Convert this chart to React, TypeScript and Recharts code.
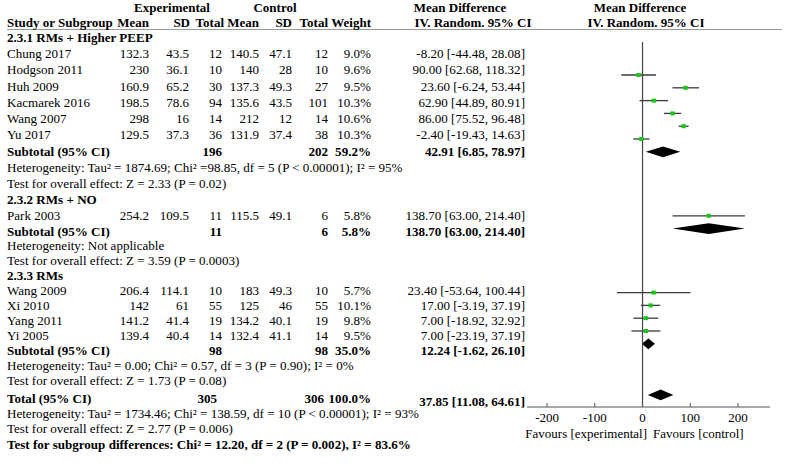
import React from 'react';
import { ScatterChart, Scatter, XAxis, YAxis, ReferenceArea, ReferenceLine } from 'recharts';

// study level data
const studyNames = ['Chung 2017', 'Hodgson 2011', 'Huh 2009', 'Kacmarek 2016', 'Wang 2007', 'Yu 2017', 'Park 2003', 'Wang 2009', 'Xi 2010', 'Yang 2011', 'Yi 2005'];
const expMean = [132.3, 230, 160.9, 198.5, 298, 129.5, 254.2, 206.4, 142, 141.2, 139.4];
const expSD = [43.5, 36.1, 65.2, 78.6, 16, 37.3, 109.5, 114.1, 61, 41.4, 40.4];
const expTotal = [12, 10, 30, 94, 14, 36, 11, 10, 55, 19, 14];
const ctlMean = [140.5, 140, 137.3, 135.6, 212, 131.9, 115.5, 183, 125, 134.2, 132.4];
const ctlSD = [47.1, 28, 49.3, 43.5, 12, 37.4, 49.1, 49.3, 46, 40.1, 41.1];
const ctlTotal = [12, 10, 27, 101, 14, 38, 6, 10, 55, 19, 14];
const weights = ['9.0%', '9.6%', '9.5%', '10.3%', '10.6%', '10.3%', '5.8%', '5.7%', '10.1%', '9.8%', '9.5%'];
const meanDiff = [-8.2, 90.0, 23.6, 62.9, 86.0, -2.4, 138.7, 23.4, 17.0, 7.0, 7.0];
const ciLow = [-44.48, 62.68, -6.24, 44.89, 75.52, -19.43, 63.0, -53.64, -3.19, -18.92, -23.19];
const ciHigh = [28.08, 118.32, 53.44, 80.91, 96.48, 14.63, 214.4, 100.44, 37.19, 32.92, 37.19];
// row index of each study in the plot panel
const studyPlotRow = [0, 1, 2, 3, 4, 5, 11, 17, 18, 19, 20];

// subgroups
const groupTitles = ['2.3.1 RMs + Higher PEEP', '2.3.2 RMs + NO', '2.3.3 RMs'];
const groupExpTotal = [196, 11, 98];
const groupCtlTotal = [202, 6, 98];
const groupWeight = ['59.2%', '5.8%', '35.0%'];
const groupMd = [42.91, 138.7, 12.24];
const groupLow = [6.85, 63.0, -1.62];
const groupHigh = [78.97, 214.4, 26.1];
const groupPlotRow = [6, 12, 21];
const groupHetero = [
  'Heterogeneity: Tau² = 1874.69; Chi² =98.85, df = 5 (P < 0.00001); I² = 95%',
  'Heterogeneity: Not applicable',
  'Heterogeneity: Tau² = 0.00; Chi² = 0.57, df = 3 (P = 0.90); I² = 0%',
];
const groupEffect = [
  'Test for overall effect: Z = 2.33 (P = 0.02)',
  'Test for overall effect: Z = 3.59 (P = 0.0003)',
  'Test for overall effect: Z = 1.73 (P = 0.08)',
];

// overall
const totalExp = 305;
const totalCtl = 306;
const totalWeight = '100.0%';
const totalMd = 37.85;
const totalLow = 11.08;
const totalHigh = 64.61;
const totalPlotRow = 25;
const totalHetero = 'Heterogeneity: Tau² = 1734.46; Chi² = 138.59, df = 10 (P < 0.00001); I² = 93%';
const totalEffect = 'Test for overall effect: Z = 2.77 (P = 0.006)';
const subgroupTest = 'Test for subgroup differences: Chi² = 12.20, df = 2 (P = 0.002), I² = 83.6%';

const axisTicks = [-200, -100, 0, 100, 200];

const FONT = '"Liberation Serif", "Times New Roman", serif';
const GREEN = '#18c818';
const BODY = 13.05;
const HEAD = 13;

// text layout
const COL = { name: 7, expMean: 149, expSD: 189, expTotal: 222, ctlMean: 259, ctlSD: 292, ctlTotal: 328, weight: 371, ci: 525 };
const studyTextY = [53, 69, 86, 102, 118, 134, 215, 290, 305, 320, 335];
const groupTitleY = [37, 199, 275];
const groupSubY = [151, 231, 350];
const groupHetY = [167, 245, 365];
const groupEffY = [183, 260, 380];
const totalY = 398;

const fmt = (v: number) => v.toFixed(2);
const ciText = (m: number, l: number, h: number) => `${fmt(m)} [${fmt(l)}, ${fmt(h)}]`;

type T = { x: number; y: number; s: string; a?: 'start' | 'middle' | 'end'; b?: boolean; f?: number };

function buildText(): T[] {
  const t: T[] = [];
  // headers
  t.push({ x: 172, y: 7, s: 'Experimental', a: 'middle', b: true, f: HEAD });
  t.push({ x: 275, y: 7, s: 'Control', a: 'middle', b: true, f: HEAD });
  t.push({ x: 460, y: 7, s: 'Mean Difference', a: 'middle', b: true, f: HEAD });
  t.push({ x: 640, y: 7, s: 'Mean Difference', a: 'middle', b: true, f: HEAD });
  t.push({ x: COL.name, y: 22, s: 'Study or Subgroup', b: true, f: HEAD });
  t.push({ x: COL.expMean, y: 22, s: 'Mean', a: 'end', b: true, f: HEAD });
  t.push({ x: 190, y: 22, s: 'SD', a: 'end', b: true, f: HEAD });
  t.push({ x: 224, y: 22, s: 'Total', a: 'end', b: true, f: HEAD });
  t.push({ x: COL.ctlMean, y: 22, s: 'Mean', a: 'end', b: true, f: HEAD });
  t.push({ x: COL.ctlSD, y: 22, s: 'SD', a: 'end', b: true, f: HEAD });
  t.push({ x: COL.ctlTotal, y: 22, s: 'Total', a: 'end', b: true, f: HEAD });
  t.push({ x: COL.weight, y: 22, s: 'Weight', a: 'end', b: true, f: HEAD });
  t.push({ x: 473, y: 22, s: 'IV. Random. 95% CI', a: 'middle', b: true, f: HEAD });
  t.push({ x: 646, y: 22, s: 'IV. Random. 95% CI', a: 'middle', b: true, f: HEAD });

  studyNames.forEach((n, i) => {
    const y = studyTextY[i];
    t.push({ x: COL.name, y, s: n });
    t.push({ x: COL.expMean, y, s: String(expMean[i]), a: 'end' });
    t.push({ x: COL.expSD, y, s: String(expSD[i]), a: 'end' });
    t.push({ x: COL.expTotal, y, s: String(expTotal[i]), a: 'end' });
    t.push({ x: COL.ctlMean, y, s: String(ctlMean[i]), a: 'end' });
    t.push({ x: COL.ctlSD, y, s: String(ctlSD[i]), a: 'end' });
    t.push({ x: COL.ctlTotal, y, s: String(ctlTotal[i]), a: 'end' });
    t.push({ x: COL.weight, y, s: weights[i], a: 'end' });
    t.push({ x: COL.ci, y, s: ciText(meanDiff[i], ciLow[i], ciHigh[i]), a: 'end' });
  });

  groupTitles.forEach((g, i) => {
    t.push({ x: COL.name, y: groupTitleY[i], s: g, b: true });
    const y = groupSubY[i];
    t.push({ x: COL.name, y, s: 'Subtotal (95% CI)', b: true });
    t.push({ x: COL.expTotal, y, s: String(groupExpTotal[i]), a: 'end', b: true });
    t.push({ x: COL.ctlTotal, y, s: String(groupCtlTotal[i]), a: 'end', b: true });
    t.push({ x: COL.weight, y, s: groupWeight[i], a: 'end', b: true });
    t.push({ x: COL.ci, y, s: ciText(groupMd[i], groupLow[i], groupHigh[i]), a: 'end', b: true });
    t.push({ x: COL.name, y: groupHetY[i], s: groupHetero[i] });
    t.push({ x: COL.name, y: groupEffY[i], s: groupEffect[i] });
  });

  t.push({ x: COL.name, y: totalY, s: 'Total (95% CI)', b: true });
  t.push({ x: 217, y: totalY, s: String(totalExp), a: 'end', b: true });
  t.push({ x: 324, y: totalY, s: String(totalCtl), a: 'end', b: true });
  t.push({ x: COL.weight, y: totalY, s: totalWeight, a: 'end', b: true });
  t.push({ x: COL.ci, y: totalY + 3, s: ciText(totalMd, totalLow, totalHigh), a: 'end', b: true });
  t.push({ x: COL.name, y: 413, s: totalHetero });
  t.push({ x: COL.name, y: 428, s: totalEffect });
  t.push({ x: COL.name, y: 444, s: subgroupTest, b: true });
  t.push({ x: 647, y: 433, s: 'Favours [experimental]', a: 'end', f: 13 });
  t.push({ x: 653, y: 433, s: 'Favours [control]', f: 13 });
  return t;
}

const lineShape = (p: any) => {
  const cy = p.y + p.height / 2;
  return <line x1={p.x} x2={p.x + p.width} y1={cy} y2={cy} stroke="#3a3a3a" strokeWidth={1.3} />;
};

const diamondShape = (p: any) => {
  const cx = p.x + p.width / 2;
  const cy = p.y + p.height / 2;
  return (
    <polygon
      points={`${p.x},${cy} ${cx},${p.y} ${p.x + p.width},${cy} ${cx},${p.y + p.height}`}
      fill="#000"
    />
  );
};

const squareShape = (p: any) => <rect x={p.cx - 2.2} y={p.cy - 2} width={4.4} height={4} fill={GREEN} />;

export default function App() {
  const points = meanDiff.map((m, i) => ({ x: m, y: studyPlotRow[i] }));
  const diamonds = [
    ...groupMd.map((_, i) => ({ lo: groupLow[i], hi: groupHigh[i], row: groupPlotRow[i] })),
    { lo: totalLow, hi: totalHigh, row: totalPlotRow },
  ];
  const text = buildText();

  return (
    <div style={{ position: 'absolute', left: 0, top: 0, width: 790, height: 466, background: '#fff' }}>
      <ScatterChart width={790} height={466} margin={{ top: 42, right: 20, bottom: 29, left: 527 }}>
        <XAxis
          type="number"
          dataKey="x"
          domain={[-242, 267]}
          ticks={axisTicks}
          allowDataOverflow
          tickSize={-4}
          tickMargin={10}
          stroke="#555"
          tick={{ fill: '#000', fontSize: 13, fontFamily: FONT }}
        />
        <YAxis type="number" dataKey="y" domain={[-2.58, 25.94]} reversed hide allowDataOverflow />
        <ReferenceLine x={0} stroke="#444" strokeWidth={1.2} />
        {studyNames.map((n, i) => (
          <ReferenceArea
            key={n}
            x1={ciLow[i]}
            x2={ciHigh[i]}
            y1={studyPlotRow[i] - 0.2}
            y2={studyPlotRow[i] + 0.2}
            shape={lineShape}
            ifOverflow="visible"
          />
        ))}
        {diamonds.map((d, i) => (
          <ReferenceArea
            key={`d${i}`}
            x1={d.lo}
            x2={d.hi}
            y1={d.row - 0.42}
            y2={d.row + 0.42}
            shape={diamondShape}
            ifOverflow="visible"
          />
        ))}
        <Scatter data={points} shape={squareShape} isAnimationActive={false} />
      </ScatterChart>
      <svg
        width={790}
        height={466}
        style={{ position: 'absolute', left: 0, top: 0, pointerEvents: 'none', fontFamily: FONT }}
      >
        <line x1={7} x2={782} y1={29.5} y2={29.5} stroke="#999" strokeWidth={1} />
        {text.map((t, i) => (
          <text
            key={i}
            x={t.x}
            y={t.y}
            textAnchor={t.a || 'start'}
            dominantBaseline="central"
            fontWeight={t.b ? 'bold' : 'normal'}
            fontSize={t.f || BODY}
            fill="#000"
          >
            {t.s}
          </text>
        ))}
      </svg>
    </div>
  );
}
